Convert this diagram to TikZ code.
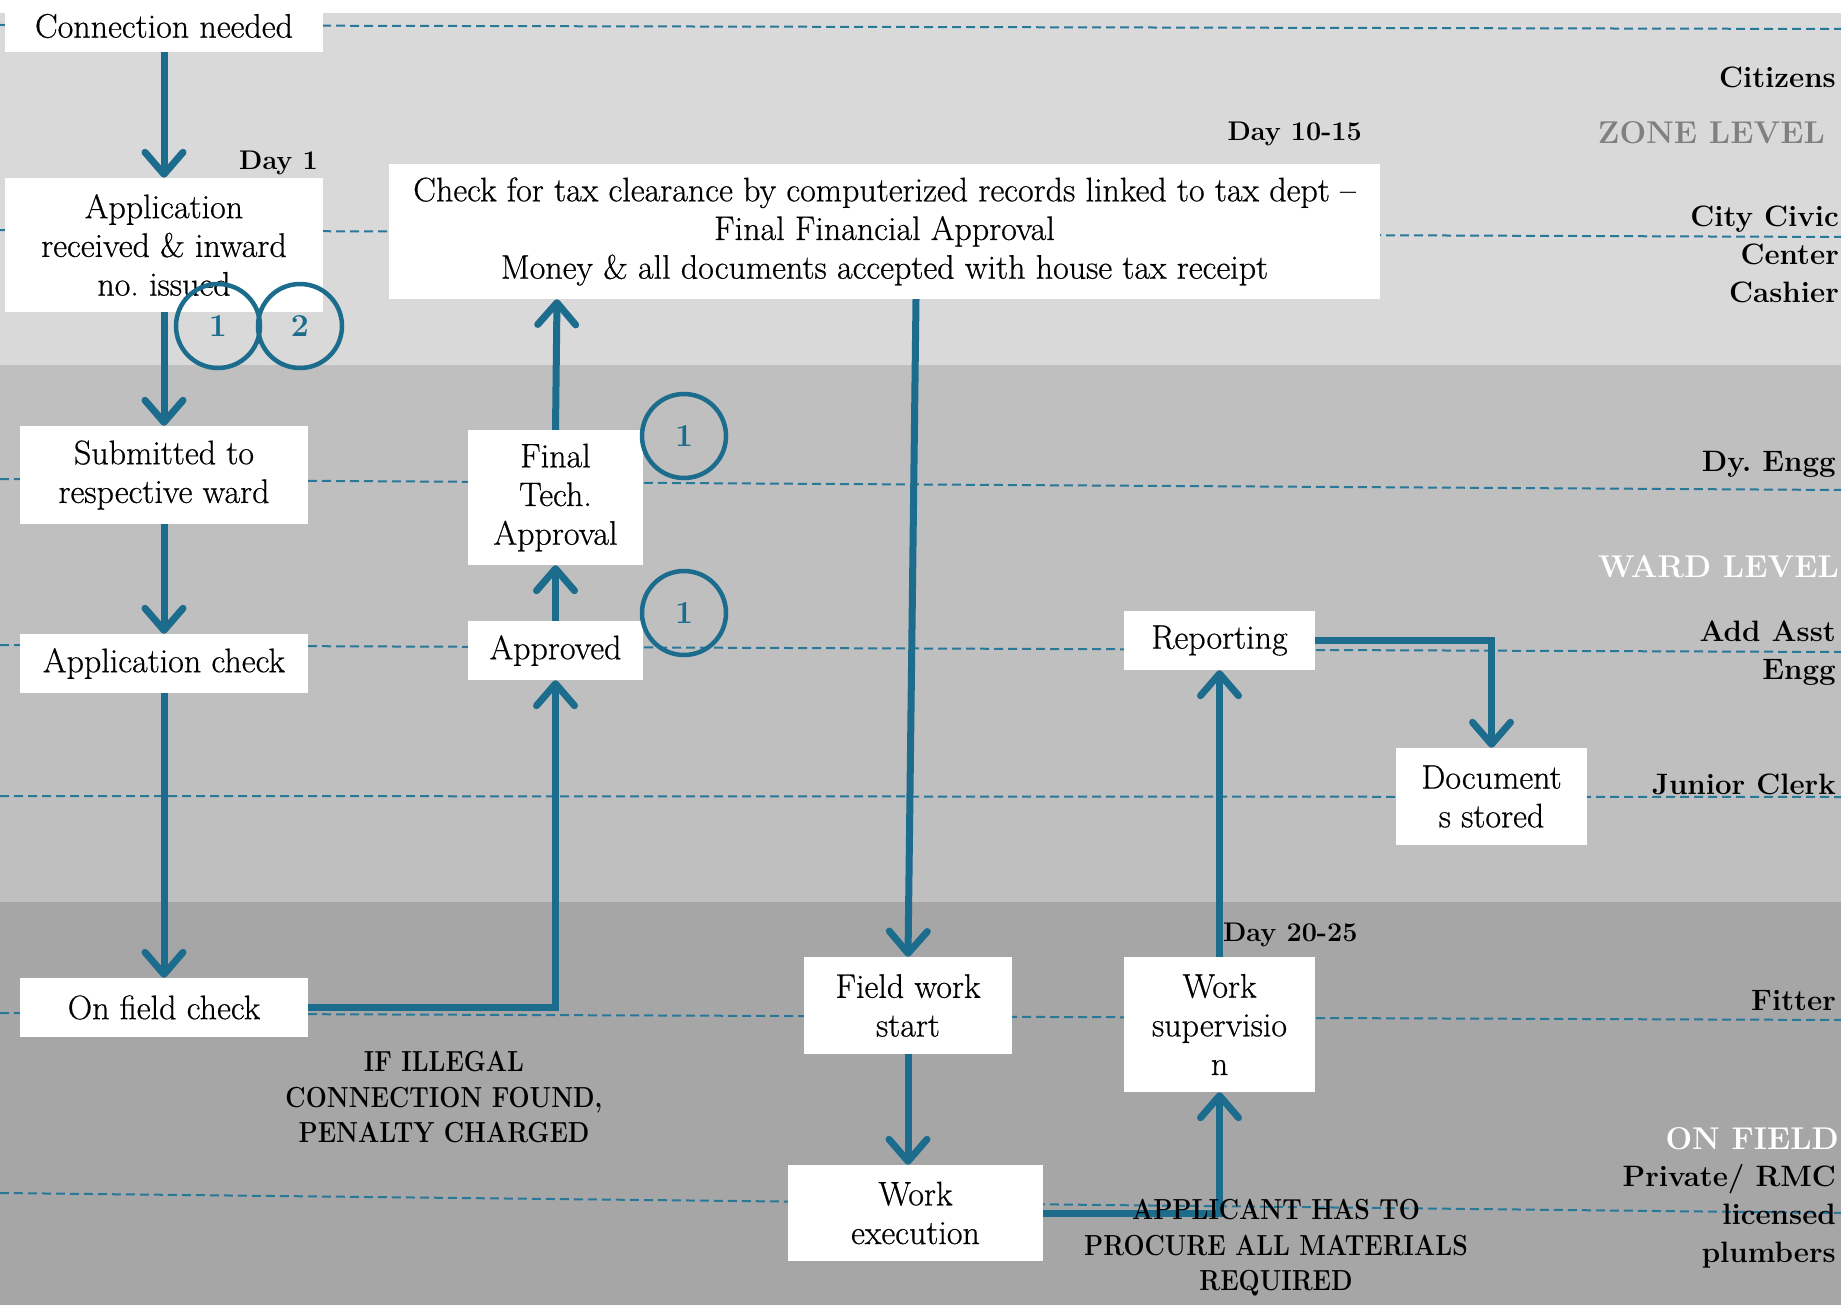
\documentclass[tikz,border=0pt]{standalone}
\usepackage{fontspec}
\usetikzlibrary{arrows.meta,calc}

\definecolor{flowblue}{HTML}{1B6C8D}
\definecolor{laneblue}{HTML}{2A7898}
\definecolor{bandtop}{HTML}{D9D9D9}
\definecolor{bandmid}{HTML}{BFBFBF}
\definecolor{bandlow}{HTML}{A6A6A6}
\definecolor{zonegray}{HTML}{808080}

\newfontfamily\boxface{Latin Modern Roman}[Ligatures=TeX,FakeBold=0.6]
\newcommand\flowboxfont{\boxface\fontsize{34}{38.7}\selectfont}
\newcommand\rolefont{\fontsize{29.5}{38}\selectfont\bfseries}
\newcommand\levelfont{\fontsize{31.5}{36}\selectfont\bfseries}
\newcommand\notefont{\fontsize{29}{35.5}\selectfont\bfseries}
% condensed, centred block of capitals
\newcommand\narrowblock[1]{\scalebox{0.86}[1]{\begin{tabular}{@{}c@{}}#1\end{tabular}}}

\begin{document}
\begin{tikzpicture}[x=1pt,y=-1pt,
  flowbox/.style={fill=white,align=center,inner sep=0pt,font=\flowboxfont},
  lane/.style={draw=laneblue,line width=2pt,dash pattern=on 9pt off 5pt},
  flow/.style={draw=flowblue,line width=7pt,-{Straight Barb[length=22pt,width=38pt,round]}},
  countmark/.style={circle,draw=flowblue,line width=4.5pt,minimum size=84pt,inner sep=0pt,
    text=flowblue,font=\fontsize{32}{32}\selectfont\bfseries},
  role/.style={anchor=east,align=right,font=\rolefont,inner sep=0pt},
  levelname/.style={anchor=east,font=\levelfont,inner sep=0pt},
  note/.style={inner sep=0pt,font=\notefont},
  daymark/.style={font=\fontsize{27}{30}\selectfont\bfseries,inner sep=0pt}
]
% canvas and the three level bands
\useasboundingbox (0,0) rectangle (1841,1305);
\fill[white] (0,0) rectangle (1841,1305);
\fill[bandtop] (0,13) rectangle (1841,365);
\fill[bandmid] (0,365) rectangle (1841,902);
\fill[bandlow] (0,902) rectangle (1841,1305);

% swimlane separators
\draw[lane] (0,25) -- (1841,29);
\draw[lane] (0,230) -- (1841,237);
\draw[lane] (0,479) -- (1841,490);
\draw[lane] (0,645) -- (1841,652);
\draw[lane] (0,796) -- (1841,797);
\draw[lane] (0,1013) -- (1841,1020);
\draw[lane] (0,1193) -- (1841,1213);

% process steps
\node[flowbox,minimum width=318pt,minimum height=52pt] (conn) at (164,26) {Connection needed};
\node[flowbox,minimum width=318pt,minimum height=134pt] (appl) at (164,245)
  {Application\\received \& inward\\no.\ issued};
\node[flowbox,minimum width=288pt,minimum height=98pt] (subm) at (164,475)
  {Submitted to\\respective ward};
\node[flowbox,minimum width=288pt,minimum height=59pt] (achk) at (164,663.5) {Application check};
\node[flowbox,minimum width=288pt,minimum height=59pt] (ofc) at (164,1007.5) {On field check};
\node[flowbox,minimum width=175pt,minimum height=135pt] (fta) at (555.5,497.5)
  {Final\\Tech.\\Approval};
\node[flowbox,minimum width=175pt,minimum height=59pt] (appr) at (555.5,650.5) {Approved};
\node[flowbox,minimum width=991pt,minimum height=135pt] (tax) at (884.5,231.5)
  {Check for tax clearance by computerized records linked to tax dept --\\
   Final Financial Approval\\
   Money \& all documents accepted with house tax receipt};
\node[flowbox,minimum width=208pt,minimum height=97pt] (fws) at (908,1005.5)
  {Field work\\start};
\node[flowbox,minimum width=255pt,minimum height=96pt] (wex) at (915.5,1213)
  {Work\\execution};
\node[flowbox,minimum width=191pt,minimum height=135pt] (wsup) at (1219.5,1024.5)
  {Work\\supervisio\\n};
\node[flowbox,minimum width=191pt,minimum height=59pt] (rep) at (1219.5,640.5) {Reporting};
\node[flowbox,minimum width=191pt,minimum height=97pt] (doc) at (1491.5,796.5)
  {Document\\s stored};

% connectors
\draw[flow] (conn.south) -- (appl.north);
\draw[flow] (appl.south) -- (subm.north);
\draw[flow] (subm.south) -- (achk.north);
\draw[flow] (achk.south) -- (ofc.north);
\draw[flow] (ofc.east) -| (appr.south);
\draw[flow] (appr.north) -- (fta.south);
\draw[flow] (fta.north) -- ([xshift=1.5pt]fta.north |- tax.south);
\draw[flow] ([xshift=31.5pt]tax.south) -- (fws.north);
\draw[flow] (fws.south) -- (fws.south |- wex.north);
\draw[flow] (wex.east) -| (wsup.south);
\draw[flow] (wsup.north) -- (rep.south);
\draw[flow] (rep.east) -| (doc.north);

% approval counters
\node[countmark] (k1) at (218,326) {\oldstylenums{1}};
\node[countmark] (k2) at (300,326) {\oldstylenums{2}};
\node[countmark] (k3) at (684,436) {\oldstylenums{1}};
\node[countmark] (k4) at (684,613) {\oldstylenums{1}};

% timing marks
\node[daymark,anchor=east] (d1) at (318,163) {Day \oldstylenums{1}};
\node[daymark,anchor=east] (d2) at (1362,134) {Day \oldstylenums{10-15}};
\node[daymark,anchor=west] (d3) at (1223,935) {Day \oldstylenums{20-25}};

% roles and levels
\node[role] (r1) at (1836,77) {Citizens};
\node[levelname,text=zonegray] (lv1) at (1825,133) {ZONE LEVEL};
\node[role] (r2) at (1839,254) {City Civic\\Center\\Cashier};
\node[role] (r3) at (1836,464) {Dy.\ Engg};
\node[levelname,text=white] (lv2) at (1839,567) {WARD LEVEL};
\node[role] (r4) at (1836,653) {Add Asst\\Engg};
\node[role] (r5) at (1836,784) {Junior Clerk};
\node[role] (r6) at (1836,1001) {Fitter};
\node[levelname,text=white] (lv3) at (1839,1139) {ON FIELD};
\node[role] (r7) at (1836,1216) {Private/ RMC\\licensed\\plumbers};

% notes
\node[note] (n1) at (444,1100) {\narrowblock{IF ILLEGAL\\CONNECTION FOUND,\\PENALTY CHARGED}};
\node[note] (n2) at (1276,1248) {\narrowblock{APPLICANT HAS TO\\PROCURE ALL MATERIALS\\REQUIRED}};
\end{tikzpicture}
\end{document}
